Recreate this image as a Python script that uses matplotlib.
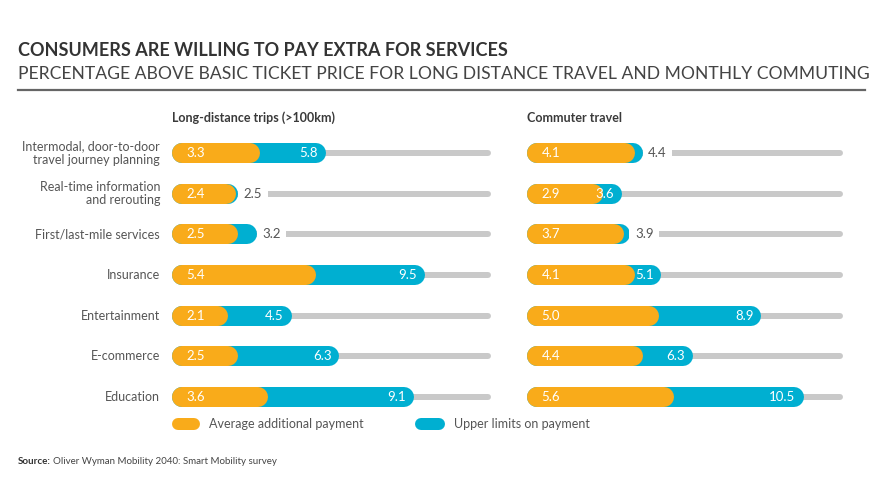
import matplotlib.pyplot as plt
from matplotlib.lines import Line2D

# data
categories = ["Intermodal, door-to-door\ntravel journey planning",
              "Real-time information\nand rerouting",
              "First/last-mile services",
              "Insurance",
              "Entertainment",
              "E-commerce",
              "Education"]
long_avg = [3.3, 2.4, 2.5, 5.4, 2.1, 2.5, 3.6]
long_upper = [5.8, 2.5, 3.2, 9.5, 4.5, 6.3, 9.1]
comm_avg = [4.1, 2.9, 3.7, 4.1, 5.0, 4.4, 5.6]
comm_upper = [4.4, 3.6, 3.9, 5.1, 8.9, 6.3, 10.5]
panel_titles = ["Long-distance trips (>100km)", "Commuter travel"]
legend_labels = ["Average additional payment", "Upper limits on payment"]

# upper label placed outside the bar
long_out = [False, True, True, False, False, False, False]
comm_out = [True, False, True, False, False, False, False]

ORANGE = "#F9AB1A"
BLUE = "#00AFD1"
TRACK = "#C9C9C9"
TXT = "#555555"

W, H = 875, 500
fig = plt.figure(figsize=(W / 100, H / 100), dpi=100)
plt.rcParams['font.family'] = ['Lato', 'DejaVu Sans']

def fx(px):
    return px / W

def fy(py):
    return 1 - py / H

# title block
fig.text(fx(18), fy(50), "CONSUMERS ARE WILLING TO PAY EXTRA FOR SERVICES",
         fontsize=13, fontweight='bold', color="#333333", va='center')
fig.text(fx(18), fy(74), "PERCENTAGE ABOVE BASIC TICKET PRICE FOR LONG DISTANCE TRAVEL AND MONTHLY COMMUTING",
         fontsize=12.65, fontweight='normal', color="#444444", va='center')
fig.add_artist(Line2D([fx(18), fx(865)], [fy(90), fy(90)], color="#666666", lw=1.6,
                      transform=fig.transFigure))

n = len(categories)
px_per_row = 40.67
row0 = 153
top_px, bot_px = 135, 415
ylim_top = -(row0 - top_px) / px_per_row
ylim_bot = (bot_px - row0) / px_per_row

def draw_panel(x0, x1, avg, upper, outside, title):
    ax = fig.add_axes([fx(x0), fy(bot_px), fx(x1 - x0), (bot_px - top_px) / H])
    ax.set_xlim(0, 12)
    ax.set_ylim(ylim_bot, ylim_top)
    ax.axis('off')
    unit = (x1 - x0) / 12.0
    r = 10 / unit
    lw_bar = 20 * 0.72
    for i in range(n):
        ax.plot([0.15, 12 - 0.12], [i, i], color=TRACK, lw=6 * 0.72,
                solid_capstyle='round', zorder=1, clip_on=False)
        ax.plot([r, upper[i] - r], [i, i], color=BLUE, lw=lw_bar,
                solid_capstyle='round', zorder=2, clip_on=False)
        ax.plot([r, avg[i] - r], [i, i], color=ORANGE, lw=lw_bar,
                solid_capstyle='round', zorder=3, clip_on=False)
        ax.text(0.55, i, f"{avg[i]:.1f}", color="white", fontsize=9.5,
                va='center', ha='left', zorder=4)
        if outside[i]:
            ax.text(upper[i] + 0.2, i, f"{upper[i]:.1f}", color=TXT, fontsize=9.5,
                    va='center', ha='left', zorder=4,
                    bbox=dict(facecolor='white', edgecolor='none', pad=4))
        else:
            ax.text(upper[i] - 0.3, i, f"{upper[i]:.1f}", color="white", fontsize=9.5,
                    va='center', ha='right', zorder=4)
    fig.text(fx(x0), fy(118), title, fontsize=9, fontweight='bold', color="#3a3a3a",
             va='center', ha='left')
    return ax

draw_panel(172, 491, long_avg, long_upper, long_out, panel_titles[0])
draw_panel(527, 843, comm_avg, comm_upper, comm_out, panel_titles[1])

for i, c in enumerate(categories):
    fig.text(fx(160), fy(row0 + i * px_per_row), c, fontsize=9, color=TXT,
             ha='right', va='center', linespacing=1.1)

# legend
for (a, b, col, lab) in [(172, 200, ORANGE, legend_labels[0]),
                         (415, 445, BLUE, legend_labels[1])]:
    fig.add_artist(Line2D([fx(a + 6), fx(b - 6)], [fy(424), fy(424)], color=col,
                          lw=12 * 0.72, solid_capstyle='round', transform=fig.transFigure))
    fig.text(fx(b + 9), fy(424), lab, fontsize=9, color=TXT, va='center', ha='left')

fig.text(fx(18), fy(462), "Source:", fontsize=7, fontweight='bold', color="#333333",
         va='center', ha='left')
fig.text(fx(53), fy(462), "Oliver Wyman Mobility 2040: Smart Mobility survey",
         fontsize=7, color="#444444", va='center', ha='left')

fig.savefig("out.png", dpi=100, facecolor='white')
